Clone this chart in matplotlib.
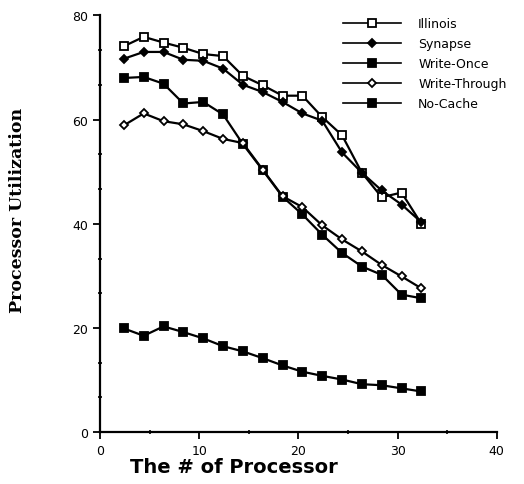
"""
Processor utilization vs. number of processors for five cache protocols.
Output: out.png (524x485)
"""

import matplotlib
matplotlib.use("Agg")
import matplotlib.pyplot as plt
from matplotlib.ticker import MultipleLocator, AutoMinorLocator

# ---------------------------------------------------------------------------
# Data
# ---------------------------------------------------------------------------
processors = [2.4, 4.4, 6.4, 8.4, 10.4, 12.4, 14.4, 16.4,
              18.4, 20.4, 22.4, 24.4, 26.4, 28.4, 30.4, 32.4]

illinois      = [74.1, 75.9, 74.8, 73.8, 72.6, 72.2, 68.4, 66.6,
                 64.6, 64.6, 60.5, 57.0, 49.8, 45.1, 46.0, 40.0]
synapse       = [71.7, 73.0, 73.0, 71.5, 71.3, 69.8, 66.7, 65.3,
                 63.4, 61.2, 59.8, 53.7, 49.8, 46.4, 43.7, 40.3]
write_once    = [68.0, 68.2, 66.9, 63.1, 63.4, 61.0, 55.3, 50.3,
                 45.2, 41.8, 37.9, 34.4, 31.8, 30.2, 26.4, 25.7]
write_through = [58.9, 61.2, 59.7, 59.1, 57.8, 56.3, 55.5, 50.4,
                 45.3, 43.2, 39.7, 37.0, 34.7, 32.1, 29.9, 27.6]
no_cache      = [19.9, 18.5, 20.3, 19.2, 18.0, 16.5, 15.5, 14.2,
                 12.8, 11.6, 10.8, 10.1, 9.2, 9.0, 8.4, 7.8]

SERIES = [
    ("Illinois",      illinois,      "s", "white", 5.2),
    ("Synapse",       synapse,       "D", "black", 4.0),
    ("Write-Once",    write_once,    "s", "black", 5.2),
    ("Write-Through", write_through, "D", "white", 4.0),
    ("No-Cache",      no_cache,      "s", "black", 5.2),
]

# ---------------------------------------------------------------------------
# Figure
# ---------------------------------------------------------------------------
fig = plt.figure(figsize=(5.24, 4.85), dpi=100)
ax = fig.add_axes([0.191, 0.107, 0.757, 0.859])

for label, values, marker, face, msize in SERIES:
    ax.plot(processors, values, color="black", linewidth=1.6,
            marker=marker, markersize=msize, markerfacecolor=face,
            markeredgecolor="black", markeredgewidth=1.3, label=label)

ax.set_xlim(0, 40)
ax.set_ylim(0, 80)
ax.xaxis.set_major_locator(MultipleLocator(10))
ax.xaxis.set_minor_locator(AutoMinorLocator(2))
ax.yaxis.set_major_locator(MultipleLocator(20))
ax.yaxis.set_minor_locator(AutoMinorLocator(3))

for side in ("top", "right"):
    ax.spines[side].set_visible(False)
for side in ("left", "bottom"):
    ax.spines[side].set_linewidth(1.6)

ax.tick_params(which="major", direction="out", length=5, width=1.3,
               labelsize=9, colors="black")
ax.tick_params(which="minor", direction="inout", length=3, width=1.2)

# Axis titles
fig.text(0.447, 0.037, "The # of Processor", fontsize=14, fontweight="bold",
         ha="center", va="center")
fig.text(0.034, 0.567, "Processor Utilization", fontsize=12.5,
         fontweight="bold", family="DejaVu Serif", rotation=90,
         ha="center", va="center")

leg = ax.legend(loc="upper left", bbox_to_anchor=(0.655, 0.962),
                bbox_transform=fig.transFigure, frameon=False, fontsize=9,
                handlelength=4.6, handletextpad=1.4, labelspacing=0.55,
                borderaxespad=0, borderpad=0)
for line in leg.get_lines():
    line.set_linewidth(1.2)

fig.savefig("out.png", dpi=100)
plt.close(fig)
